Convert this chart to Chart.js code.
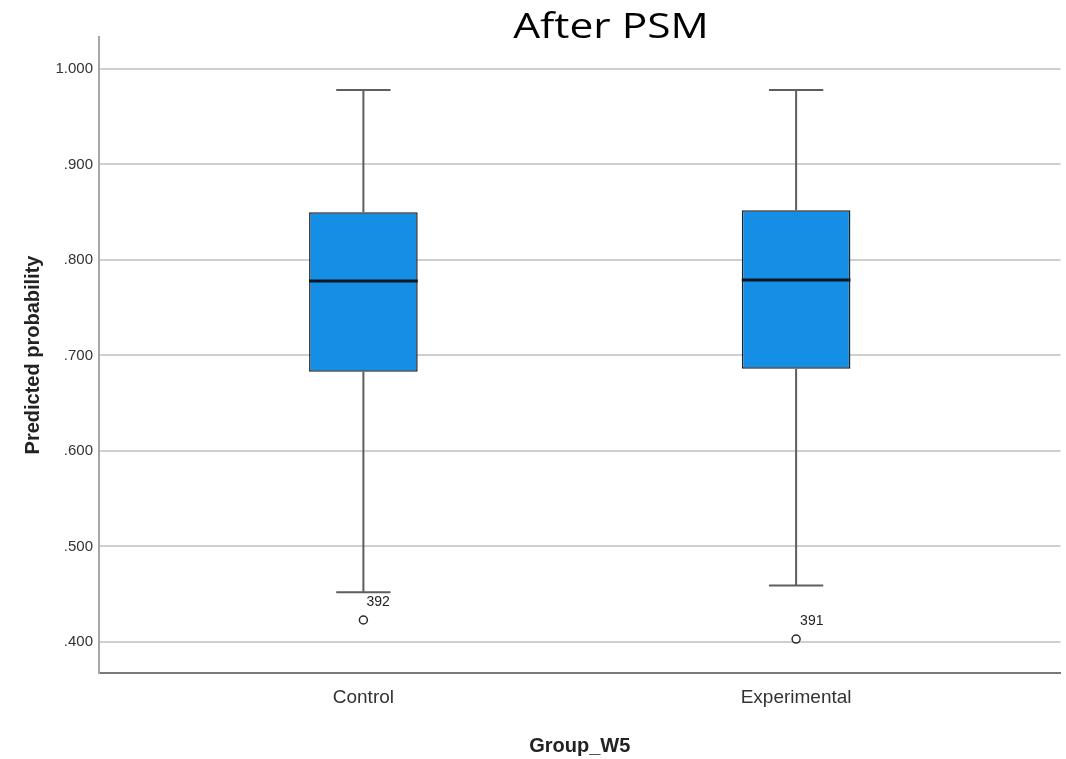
<!DOCTYPE html>
<html>
<head>
<meta charset="utf-8">
<title>After PSM</title>
<script src="https://cdn.jsdelivr.net/npm/chart.js@4/dist/chart.umd.min.js"></script>
<style>
  html, body { margin: 0; padding: 0; background: #ffffff; }
  #wrap { width: 1066px; height: 759px; }
</style>
</head>
<body>
<div id="wrap"><canvas id="box" width="1066" height="759"></canvas></div>
<script>
// Groups on the horizontal axis
const categories = ['Control', 'Experimental'];

// Five-number summaries of the predicted probability per group
const whiskerLow  = [0.452, 0.459];
const quartile1   = [0.683, 0.686];
const medians     = [0.778, 0.779];
const quartile3   = [0.850, 0.852];
const whiskerHigh = [0.978, 0.978];

// Outlying cases (value and case number)
const outlierValues = [0.423, 0.403];
const outlierCases  = ['392', '391'];

// Vertical axis ticks
const yTickValues = [0.4, 0.5, 0.6, 0.7, 0.8, 0.9, 1.0];
const yTickLabels = ['.400', '.500', '.600', '.700', '.800', '.900', '1.000'];

const SANS = "'Liberation Sans', Arial, sans-serif";

// Whiskers, caps, medians and case labels, placed through the chart scales
const boxDecorations = {
  id: 'boxDecorations',
  afterDatasetsDraw(chart) {
    const ctx = chart.ctx;
    const xs = chart.scales.x, ys = chart.scales.y;
    const bars = chart.getDatasetMeta(0).data;
    ctx.save();
    categories.forEach((c, i) => {
      const cx = xs.getPixelForValue(i);
      const w = bars[i].width;
      const capHalf = w * 0.25;
      const yHi = ys.getPixelForValue(whiskerHigh[i]);
      const yQ3 = ys.getPixelForValue(quartile3[i]);
      const yQ1 = ys.getPixelForValue(quartile1[i]);
      const yLo = ys.getPixelForValue(whiskerLow[i]);
      const yMed = ys.getPixelForValue(medians[i]);

      ctx.strokeStyle = '#5e5e5e';
      ctx.lineWidth = 2;
      ctx.beginPath();
      ctx.moveTo(cx, yHi); ctx.lineTo(cx, yQ3);
      ctx.moveTo(cx, yQ1); ctx.lineTo(cx, yLo);
      ctx.moveTo(cx - capHalf, yHi); ctx.lineTo(cx + capHalf, yHi);
      ctx.moveTo(cx - capHalf, yLo); ctx.lineTo(cx + capHalf, yLo);
      ctx.stroke();

      ctx.strokeStyle = '#0b1620';
      ctx.lineWidth = 3;
      ctx.beginPath();
      ctx.moveTo(cx - w / 2, yMed); ctx.lineTo(cx + w / 2, yMed);
      ctx.stroke();

      // case number next to the outlier
      const oy = ys.getPixelForValue(outlierValues[i]);
      ctx.fillStyle = '#222222';
      ctx.font = '14px ' + SANS;
      ctx.textAlign = 'left';
      ctx.textBaseline = 'middle';
      ctx.fillText(outlierCases[i], cx + 3 + i, oy - 18);
    });
    ctx.restore();
  }
};

// Heading above the plot
const heading = {
  id: 'heading',
  afterDraw(chart) {
    const ctx = chart.ctx;
    ctx.save();
    ctx.fillStyle = '#000000';
    ctx.font = "34px 'Open Sans', 'Noto Sans', sans-serif";
    ctx.textAlign = 'center';
    ctx.textBaseline = 'alphabetic';
    ctx.translate(611, 38);
    ctx.scale(1.25, 1);
    ctx.fillText('After PSM', 0, 0);
    ctx.restore();
  }
};

new Chart(document.getElementById('box'), {
  type: 'bar',
  data: {
    datasets: [
      {
        type: 'bar',
        data: categories.map((c, i) => ({ x: i, y: [quartile1[i], quartile3[i]] })),
        backgroundColor: '#158fe6',
        borderColor: '#222222',
        borderWidth: 1.5,
        borderSkipped: false,
        categoryPercentage: 1,
        barPercentage: 0.251,
        order: 2
      },
      {
        type: 'scatter',
        data: categories.map((c, i) => ({ x: i, y: outlierValues[i] })),
        pointStyle: 'circle',
        pointRadius: 4,
        pointBorderWidth: 1.5,
        pointBorderColor: '#2b2b2b',
        pointBackgroundColor: '#ffffff',
        order: 1
      }
    ]
  },
  options: {
    responsive: false,
    animation: false,
    events: [],
    layout: { padding: { top: 37, right: 2, left: 0, bottom: 0 } },
    plugins: {
      legend: { display: false },
      tooltip: { enabled: false },
      title: { display: false }
    },
    scales: {
      x: {
        type: 'linear',
        offset: false,
        min: -0.611,
        max: 1.611,
        afterBuildTicks(scale) {
          scale.ticks = categories.map((c, i) => ({ value: i }));
        },
        afterFit(scale) {
          scale.height = 86;
          scale.paddingLeft = 0;
          scale.paddingRight = 0;
        },
        grid: { display: true, offset: false, color: 'rgba(0,0,0,0)', drawTicks: false },
        border: { display: true, color: '#7a7a7a', width: 2 },
        ticks: {
          padding: 13,
          color: '#333333',
          font: { family: SANS, size: 19 },
          callback: (v) => categories[v] ?? ''
        },
        title: {
          display: true,
          text: 'Group_W5',
          color: '#222222',
          font: { family: SANS, size: 20, weight: 'bold' },
          padding: { top: 0, bottom: 1 }
        }
      },
      y: {
        type: 'linear',
        min: 0.3675,
        max: 1.0335,
        afterBuildTicks(scale) {
          scale.ticks = yTickValues.map(v => ({ value: v }));
        },
        afterFit(scale) { scale.width = 99; },
        grid: { color: '#cfcfcf', lineWidth: 2, drawTicks: false },
        border: { display: true, color: '#a6a6a6', width: 2 },
        ticks: {
          padding: 6,
          color: '#333333',
          font: { family: SANS, size: 15 },
          callback: (v) => {
            const k = yTickValues.findIndex(t => Math.abs(t - v) < 1e-9);
            return k >= 0 ? yTickLabels[k] : '';
          }
        },
        title: {
          display: true,
          text: 'Predicted probability',
          color: '#222222',
          font: { family: SANS, size: 20, weight: 'bold' },
          padding: { top: 21, bottom: 0 }
        }
      }
    }
  },
  plugins: [boxDecorations, heading]
});
</script>
</body>
</html>
